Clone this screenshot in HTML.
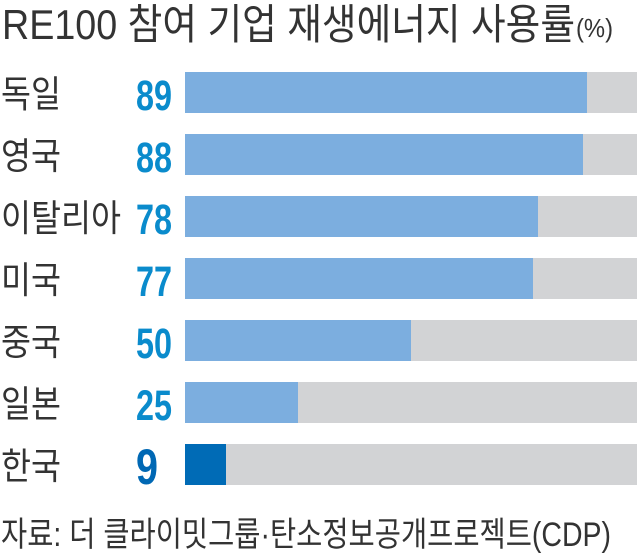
<!DOCTYPE html>
<html><head><meta charset="utf-8"><style>
html,body{margin:0;padding:0;background:#fff;}
svg{display:block;}
text{font-family:"Liberation Sans","Noto Sans CJK KR",sans-serif;}
</style></head><body>
<svg width="637" height="553" viewBox="0 0 637 553" xmlns="http://www.w3.org/2000/svg">
<text x="2" y="39" font-size="42" fill="#333" textLength="573" lengthAdjust="spacingAndGlyphs">RE100 참여 기업 재생에너지 사용률</text>
<text x="576" y="37" font-size="26" fill="#333" textLength="37" lengthAdjust="spacingAndGlyphs">(%)</text>
<g fill="#d2d3d5">
<rect x="185" y="72" width="452" height="41"/>
<rect x="185" y="134" width="452" height="41"/>
<rect x="185" y="196" width="452" height="41"/>
<rect x="185" y="258" width="452" height="41"/>
<rect x="185" y="320" width="452" height="41"/>
<rect x="185" y="382" width="452" height="41"/>
<rect x="185" y="444" width="452" height="41"/>
</g>
<g fill="#7caedf">
<rect x="185" y="72" width="402" height="41"/>
<rect x="185" y="134" width="398" height="41"/>
<rect x="185" y="196" width="353" height="41"/>
<rect x="185" y="258" width="348" height="41"/>
<rect x="185" y="320" width="226" height="41"/>
<rect x="185" y="382" width="113" height="41"/>
</g>
<rect x="185" y="444" width="41" height="41" fill="#006bb6"/>
<g font-size="37" fill="#333">
<text x="1" y="107" textLength="60" lengthAdjust="spacingAndGlyphs">독일</text>
<text x="1" y="169" textLength="60" lengthAdjust="spacingAndGlyphs">영국</text>
<text x="1" y="231" textLength="120" lengthAdjust="spacingAndGlyphs">이탈리아</text>
<text x="1" y="293" textLength="60" lengthAdjust="spacingAndGlyphs">미국</text>
<text x="1" y="355" textLength="60" lengthAdjust="spacingAndGlyphs">중국</text>
<text x="1" y="417" textLength="60" lengthAdjust="spacingAndGlyphs">일본</text>
<text x="1" y="479" textLength="60" lengthAdjust="spacingAndGlyphs">한국</text>
</g>
<g font-size="43" font-weight="bold" fill="#0a8bcc">
<text x="136" y="110" textLength="36" lengthAdjust="spacingAndGlyphs">89</text>
<text x="136" y="172" textLength="36" lengthAdjust="spacingAndGlyphs">88</text>
<text x="136" y="234" textLength="36" lengthAdjust="spacingAndGlyphs">78</text>
<text x="136" y="296" textLength="36" lengthAdjust="spacingAndGlyphs">77</text>
<text x="136" y="358" textLength="36" lengthAdjust="spacingAndGlyphs">50</text>
<text x="136" y="420" textLength="36" lengthAdjust="spacingAndGlyphs">25</text>
</g>
<text x="136" y="484" font-size="50" font-weight="bold" fill="#0068b4" textLength="22" lengthAdjust="spacingAndGlyphs">9</text>
<text x="1" y="546" font-size="34" fill="#333" textLength="610" lengthAdjust="spacingAndGlyphs">자료: 더 클라이밋그룹·탄소정보공개프로젝트(CDP)</text>
</svg>
</body></html>
